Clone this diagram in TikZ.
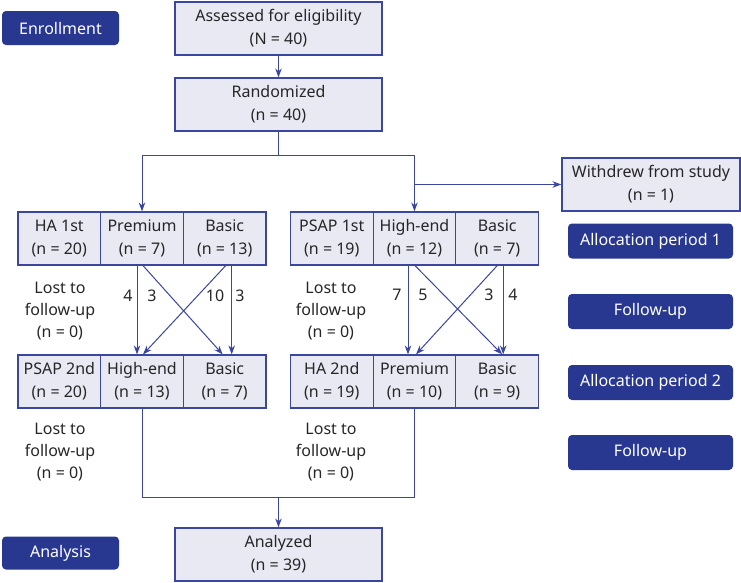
\documentclass[tikz,border=0pt]{standalone}
\usepackage{fontspec}
\setmainfont{Noto Sans}
\usetikzlibrary{calc,arrows.meta}
\definecolor{navy}{HTML}{283891}
\definecolor{boxfill}{HTML}{E9E9F4}
\definecolor{lineblue}{HTML}{3A46A0}
\begin{document}
\begin{tikzpicture}[x=1pt,y=-1pt,
  every node/.style={font=\fontsize{16}{23}\selectfont, align=center, inner sep=0pt, text=black!85},
  wbox/.style={draw=lineblue, fill=boxfill, line width=1.2pt, minimum height=53pt},
  big/.style={wbox, minimum width=207pt},
  cell/.style={wbox, minimum width=82.67pt},
  lbl/.style={fill=navy, text=white, rounded corners=4pt, minimum width=165pt, minimum height=35pt},
  conn/.style={draw=lineblue, line width=1pt},
  arr/.style={conn, -{Stealth[length=9pt,width=6.5pt]}},
  lost/.style={font=\fontsize{16}{22}\selectfont}
  ]
\useasboundingbox (0,0) rectangle (741,582);

% stage labels
\node[lbl, minimum width=117pt, minimum height=34pt] (enroll) at (60.5,28) {Enrollment};
\node[lbl] (alloc1) at (650.5,241) {Allocation period 1};
\node[lbl] (follow1) at (650.5,311.5) {Follow-up};
\node[lbl] (alloc2) at (650.5,382.5) {Allocation period 2};
\node[lbl] (follow2) at (650.5,452.5) {Follow-up};
\node[lbl, minimum width=117pt, minimum height=33pt] (analysis) at (60.5,553) {Analysis};

% main boxes
\node[big] (assess) at (278.5,28.5) {Assessed for eligibility\\(N = 40)};
\node[big] (rand) at (278.5,104.5) {Randomized\\(n = 40)};
\node[wbox, minimum width=178pt] (withdrew) at (651,184.5) {Withdrew from study\\(n = 1)};
\node[big] (analyzed) at (278.5,554.5) {Analyzed\\(n = 39)};

% period 1 cells
\node[cell] (ha1) at (59.3,238.5) {HA 1st\\(n = 20)};
\node[cell] (prem1) at (142,238.5) {Premium\\(n = 7)};
\node[cell] (basic1) at (224.7,238.5) {Basic\\(n = 13)};
\node[cell] (psap1) at (331.8,238.5) {PSAP 1st\\(n = 19)};
\node[cell] (hend1) at (414.5,238.5) {High-end\\(n = 12)};
\node[cell] (basic1r) at (497.2,238.5) {Basic\\(n = 7)};

% period 2 cells
\node[cell] (psap2) at (59.3,381.5) {PSAP 2nd\\(n = 20)};
\node[cell] (hend2) at (142,381.5) {High-end\\(n = 13)};
\node[cell] (basic2) at (224.7,381.5) {Basic\\(n = 7)};
\node[cell] (ha2) at (331.8,381.5) {HA 2nd\\(n = 19)};
\node[cell] (prem2) at (414.5,381.5) {Premium\\(n = 10)};
\node[cell] (basic2r) at (497.2,381.5) {Basic\\(n = 9)};

% lost to follow-up
\node[lost] (lostA) at (60,311) {Lost to\\follow-up\\(n = 0)};
\node[lost] (lostB) at (331,311) {Lost to\\follow-up\\(n = 0)};
\node[lost] (lostC) at (60,452) {Lost to\\follow-up\\(n = 0)};
\node[lost] (lostD) at (331,452) {Lost to\\follow-up\\(n = 0)};

% connectors top
\draw[arr] (assess.south) -- (rand.north);
\coordinate (split) at (278.5,155);
\draw[conn] (rand.south) -- (split);
\draw[arr] (split) -| (prem1.north);
\draw[arr] (split) -| (hend1.north);
\draw[arr] (hend1.north |- withdrew.west) -- (withdrew.west);

% left crossover
\draw[arr] ($(prem1.south)+(-5,0)$) -- ($(hend2.north)+(-5,0)$);
\draw[arr] ($(prem1.south)+(1,0)$) -- ($(basic2.north)+(-2,0)$);
\draw[arr] ($(basic1.south)+(1,0)$) -- ($(hend2.north)+(1,0)$);
\draw[arr] ($(basic1.south)+(7,0)$) -- ($(basic2.north)+(7,0)$);
\node (nA) at (128,296) {4};
\node (nB) at (152,296) {3};
\node (nC) at (215,296) {10};
\node (nD) at (240,296) {3};

% right crossover
\draw[arr] ($(hend1.south)+(-6.5,0)$) -- ($(prem2.north)+(-6.5,0)$);
\draw[arr] ($(hend1.south)+(0.5,0)$) -- ($(basic2r.north)+(5,0)$);
\draw[arr] ($(basic1r.south)+(0,0)$) -- ($(prem2.north)+(1.5,0)$);
\draw[arr] ($(basic1r.south)+(6,0)$) -- ($(basic2r.north)+(6,0)$);
\node (nE) at (397,295) {7};
\node (nF) at (423,295) {5};
\node (nG) at (489,295) {3};
\node (nH) at (513,295) {4};

% merge to analysis
\coordinate (merge) at (278.5,497);
\draw[conn] (hend2.south) |- (merge) -| (prem2.south);
\draw[arr] (merge) -- (analyzed.north);
\end{tikzpicture}
\end{document}
